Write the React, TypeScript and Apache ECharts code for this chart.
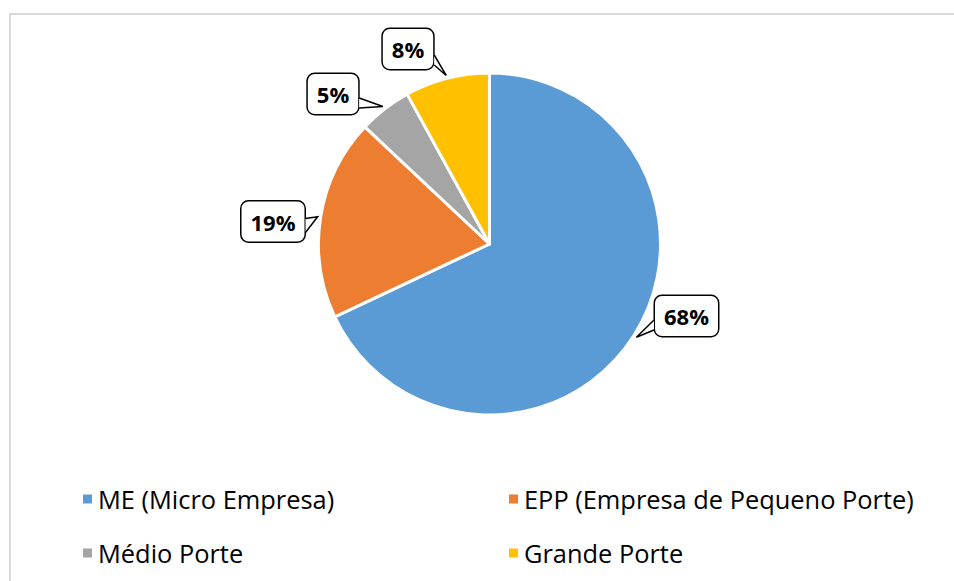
import React, { useEffect, useRef } from "react";
import * as echarts from "echarts";

const categories = ["ME (Micro Empresa)", "EPP (Empresa de Pequeno Porte)", "Médio Porte", "Grande Porte"];
const values = [68, 19, 5, 8];
const colors = ["#5B9BD5", "#ED7D31", "#A5A5A5", "#FFC000"];

// layout of callout boxes (centres, px), side of the pointer and its base offsets
const labelCenters: [number, number][] = [
  [686.5, 316],
  [273, 221.5],
  [333, 94],
  [408, 49],
];
const pointerSide = [-1, 1, 1, 1];
const pointerBase: [number, number][] = [
  [4, 14],
  [-3, 11],
  [4, 14],
  [6, 16],
];

const CX = 489.5;
const CY = 244;
const R = 171;

export default function App() {
  const ref = useRef<HTMLDivElement>(null);
  useEffect(() => {
    if (!ref.current) return;
    const chart = echarts.init(ref.current, null, { renderer: "svg" });
    const total = values.reduce((a, b) => a + b, 0);
    const tips: [number, number][] = [];
    let acc = 0;
    values.forEach((v) => {
      const mid = 90 - ((acc + v / 2) / total) * 360;
      acc += v;
      const rad = (mid * Math.PI) / 180;
      tips.push([CX + (R + 3) * Math.cos(rad), CY - (R + 3) * Math.sin(rad)]);
    });
    const rects: { width: number; height: number }[] = [];
    const border = {
      type: "rect",
      shape: { x: 10, y: 14, width: 1000, height: 700 },
      style: { fill: "none", stroke: "#d9d9d9", lineWidth: 2 },
      silent: true,
    };
    const legendText = { fontFamily: "Open Sans", fontSize: 25.4, color: "#000", lineHeight: 30 };
    chart.setOption({
      animation: false,
      backgroundColor: "#ffffff",
      graphic: [border],
      legend: [
        {
          orient: "vertical",
          left: 76,
          top: 479,
          itemWidth: 11,
          itemHeight: 11,
          itemGap: 24,
          icon: "rect",
          selectedMode: false,
          data: [categories[0], categories[2]],
          textStyle: legendText,
        },
        {
          orient: "vertical",
          left: 502,
          top: 479,
          itemWidth: 11,
          itemHeight: 11,
          itemGap: 24,
          icon: "rect",
          selectedMode: false,
          data: [categories[1], categories[3]],
          textStyle: legendText,
        },
      ],
      series: [
        {
          type: "pie",
          center: [CX, CY],
          radius: R,
          startAngle: 90,
          clockwise: true,
          avoidLabelOverlap: false,
          itemStyle: { borderColor: "#ffffff", borderWidth: 3 },
          emphasis: { disabled: true },
          data: categories.map((name, i) => ({ name, value: values[i], itemStyle: { color: colors[i] } })),
          label: {
            show: true,
            position: "outside",
            formatter: (p: any) => `${p.value}%`,
            fontFamily: "Open Sans",
            fontWeight: "bold",
            fontSize: 22,
            lineHeight: 22,
            color: "#000",
            backgroundColor: "#ffffff",
            borderColor: "#000000",
            borderWidth: 1.5,
            borderRadius: 7,
            padding: [9, 9, 9, 9],
          },
          labelLine: { show: false },
          labelLayout: (params: any) => {
            const i = params.dataIndex;
            const [x, y] = labelCenters[i];
            if (params.labelRect) rects[i] = { width: params.labelRect.width, height: params.labelRect.height };
            return { x, y, align: "center", verticalAlign: "middle" };
          },
        },
      ],
    });
    const wedges: any[] = [];
    labelCenters.forEach(([x, y], i) => {
      const w = rects[i] ? rects[i].width : 56;
      const ex = x + pointerSide[i] * (w / 2 - 0.5);
      const b1: [number, number] = [ex, y + pointerBase[i][0]];
      const b2: [number, number] = [ex, y + pointerBase[i][1]];
      wedges.push({
        type: "polygon",
        z: 100,
        silent: true,
        shape: { points: [b1, tips[i], b2] },
        style: { fill: "#ffffff", stroke: "none" },
      });
      wedges.push({
        type: "polyline",
        z: 101,
        silent: true,
        shape: { points: [b1, tips[i], b2] },
        style: { fill: "none", stroke: "#000000", lineWidth: 1.5, lineJoin: "miter" },
      });
    });
    chart.setOption({ graphic: [border, ...wedges] });
    return () => chart.dispose();
  }, []);
  return <div ref={ref} style={{ position: "absolute", left: 0, top: 0, width: 954, height: 581 }} />;
}
